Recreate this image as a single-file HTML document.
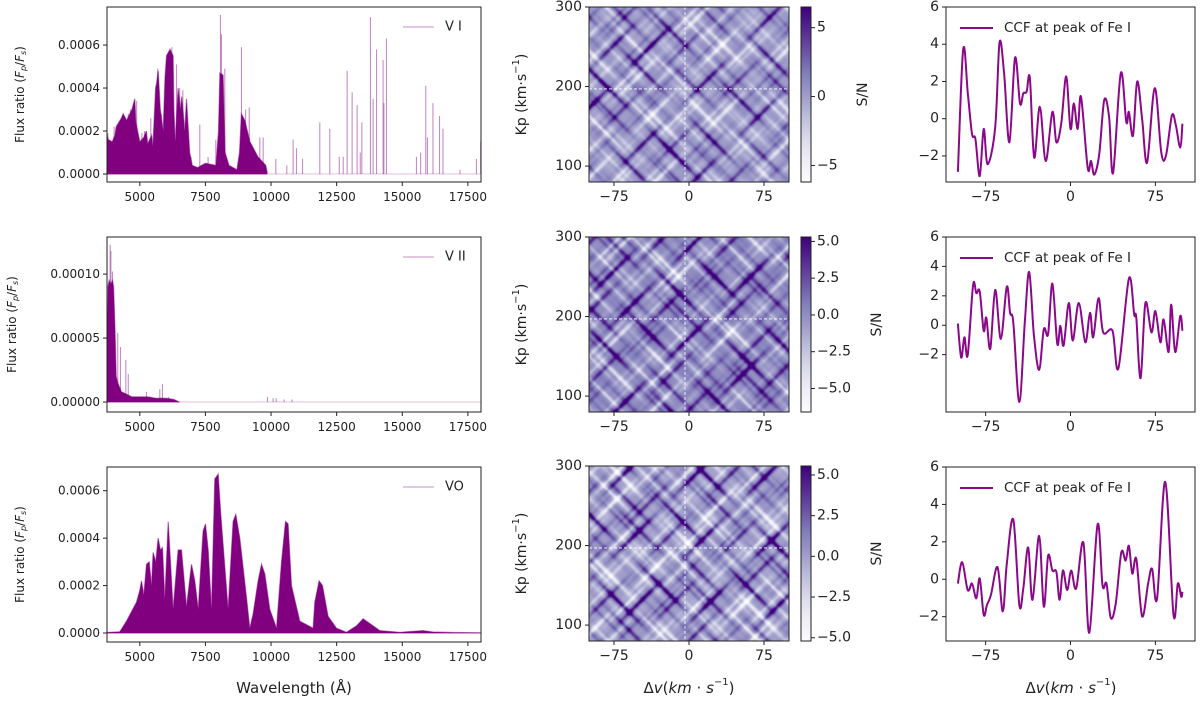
<!DOCTYPE html>
<html><head><meta charset="utf-8">
<style>
html,body{margin:0;padding:0;background:#fff;}
#wrap{position:relative;width:1200px;height:701px;overflow:hidden;font-family:"DejaVu Sans","Liberation Sans",sans-serif;}
svg{position:absolute;left:0;top:0;}
canvas{position:absolute;}
</style></head>
<body>
<div id="wrap">
<svg id="svg" width="1200" height="701" xmlns="http://www.w3.org/2000/svg">
<defs>
<linearGradient id="purples" x1="0" y1="1" x2="0" y2="0">
<stop offset="0" stop-color="#fcfbfd"/><stop offset="0.125" stop-color="#efedf5"/><stop offset="0.25" stop-color="#dadaeb"/>
<stop offset="0.375" stop-color="#bcbddc"/><stop offset="0.5" stop-color="#9e9ac8"/><stop offset="0.625" stop-color="#807dba"/>
<stop offset="0.75" stop-color="#6a51a3"/><stop offset="0.875" stop-color="#54278f"/><stop offset="1" stop-color="#3f007d"/>
</linearGradient>
</defs>
</svg>
</div>
<script>
// ---------- data ----------
const v1DenseWl = [3750,3800,3950,4050,4100,4300,4365,4500,4700,4810,4850,5000,5150,5250,5300,5450,5500,5600,5635,5700,5780,5890,5960,6016,6150,6270,6300,6350,6460,6550,6600,6715,6780,6900,7000,7200,7500,7900,8000,8050,8175,8250,8400,8700,8800,8870,9000,9200,9500,9800,9850];
const v1DenseVal = [0.00018,0.00016,0.00015,0.00018,0.00022,0.00026,0.00028,0.00025,0.00030,0.00035,0.00024,0.00015,0.00017,0.00020,0.00014,0.00018,0.00013,0.00040,0.00042,0.00048,0.00030,0.00020,0.00045,0.00055,0.00058,0.00055,0.00030,0.00015,0.00040,0.00030,0.00036,0.00020,0.00035,0.00010,0.00004,0.00003,0.00005,0.00004,0.00020,0.00047,0.00046,0.00010,0.00004,0.00002,0.00010,0.00028,0.00025,0.00015,0.00008,0.00004,0.00001];
const v1LineWl = [3780,3900,4020,4150,4230,4420,4560,4640,4760,4880,4950,5080,5180,5330,5420,5560,5680,5820,5900,6060,6220,6400,6520,6640,6840,6950,7286,7600,7896,8073,8110,8238,8874,9030,9170,9572,9700,10182,10600,10842,10970,11200,11858,12239,12600,12750,12900,13090,13280,13400,13460,13788,13890,14020,14270,14300,14398,15541,15700,15897,15960,16170,16420,16550,17200,17827,17990];
const v1LineVal = [0.00019,0.00012,0.00022,0.00016,0.00020,0.00012,0.00028,0.00030,0.00015,0.00034,0.00008,0.00019,0.00020,0.00008,0.00026,0.00012,0.00049,0.00028,0.00013,0.00050,0.00059,0.00051,0.00040,0.00039,0.00012,0.00008,0.00023,0.00008,0.00016,0.00074,0.00065,0.00049,0.00059,0.00030,0.00031,0.00017,0.00017,0.00007,0.00004,0.00016,0.00012,0.00007,0.00024,0.00021,0.00008,0.00008,0.00048,0.00038,0.00032,0.00010,0.00024,0.00073,0.00035,0.00058,0.00053,0.00033,0.00063,0.00008,0.00010,0.00041,0.00017,0.00033,0.00027,0.00021,0.00002,0.00007,0.00015];
const v2DenseWl = [3750,3790,3830,3900,3960,4000,4050,4100,4160,4300,4500,4700,5000,5300,5600,6000,6300,6500];
const v2DenseVal = [0.000045,0.000090,0.000095,0.000092,0.000095,0.000090,0.000060,0.000020,0.000015,0.000008,0.000006,0.000004,0.000004,0.000004,0.000003,0.000003,0.000002,0.000000];
const v2LineWl = [3870,3900,3960,4160,4263,4467,4560,5254,5400,5762,5863,6100,9864,10080,10200,10500,10800];
const v2LineVal = [0.000123,0.000118,0.000102,0.000054,0.000043,0.000033,0.000022,0.000008,0.000004,0.000010,0.000014,0.000004,0.000004,0.000003,0.000003,0.000002,0.000002];
const voWl = [3750,3857,4238,4492,4873,5000,5064,5152,5254,5356,5445,5508,5610,5698,5787,5863,5952,6080,6168,6270,6460,6587,6778,6969,7096,7223,7413,7502,7604,7731,7858,7985,8087,8365,8556,8658,8810,9064,9191,9318,9508,9636,9763,9953,10207,10398,10550,10652,10779,11096,11604,11667,11832,11959,12175,12493,12874,13255,13509,13763,14144,14906,15795,16176,17000,18000];
const voVal = [0.000003,0.000003,0.000005,0.00005,0.00013,0.00018,0.00022,0.00016,0.00029,0.00030,0.00020,0.00034,0.00030,0.00040,0.00035,0.00036,0.00014,0.00047,0.00030,0.00010,0.00035,0.00035,0.00011,0.00029,0.00022,0.00010,0.00043,0.00046,0.00035,0.00010,0.00065,0.00067,0.00050,0.00010,0.00047,0.00050,0.00040,0.00015,0.00002,0.00008,0.00022,0.00029,0.00025,0.00010,0.00002,0.00030,0.00047,0.00046,0.00020,0.00005,0.00002,0.00013,0.00022,0.00020,0.00007,0.00002,0.000003,0.00003,0.00006,0.00004,0.00001,0.000003,0.00001,0.000004,0.000002,0.000001];
const ccf1V = [-99.5,-94.8,-90.7,-87,-84,-80.2,-76.7,-73.2,-66.5,-62.7,-58.7,-54,-49,-44.6,-41.7,-38.8,-35.9,-32.1,-27.1,-21.9,-16,-12.5,-8.2,-3.8,0,2.9,6.4,9.3,15.2,18.1,21,25.4,29.8,34.1,37.6,44.4,49.3,51.6,55.2,58.9,63.3,67.7,74.4,80.2,84.3,89.6,93.1,96.9,98.9];
const ccf1S = [-2.85,3.73,1.36,-0.82,-1.09,-3.09,-0.55,-2.45,-0.45,4.09,2.45,-1.27,3.27,0.82,1.36,1.45,2.18,-2.09,0.64,-2.27,0.36,-1.27,-0.27,2.27,-0.55,0.82,-0.55,1.18,-2.64,-2.27,-3.0,-1.91,1.0,0.09,-2.91,2.45,-0.18,0.36,-0.91,2.0,0,-2.36,1.64,-1.82,-2.0,0.18,-0.36,-1.55,-0.27];
const ccf2V = [-99.5,-96.6,-93.7,-90.8,-86.1,-83.2,-80.2,-76.7,-74.4,-70.9,-66.5,-61.6,-56.3,-53.4,-50.5,-45.2,-40.3,-36.5,-32.4,-27.7,-23.6,-19.8,-16,-11.7,-9,-6.1,-1.5,2,7.3,13.1,17.2,20.1,24.8,28.9,37.1,42.3,51.6,56.3,58.1,61.9,66.2,71.5,75,79.4,82.3,86.7,89,92.5,96.9,98.9];
const ccf2S = [0.11,-2.2,-0.82,-2.04,2.73,2.18,2.29,-0.38,0.51,-1.6,2.4,-0.93,2.62,0.84,0.18,-5.22,0.29,3.62,-0.6,-3.04,-0.27,-0.6,2.84,-1.27,-0.04,-1.38,1.51,-1.04,1.51,-1.16,0.84,-0.82,1.84,-0.49,-0.38,-2.93,3.18,0.73,0.51,-3.6,1.51,-0.49,0.96,-1.16,0.4,-1.82,1.4,-1.82,0.62,-0.38];
const ccf3V = [-99.5,-95.7,-90.8,-87,-83.2,-80.2,-76.7,-73.8,-70.3,-64.5,-59.8,-56.3,-50.5,-45.2,-41.7,-37.4,-33.6,-27.7,-23.6,-19.8,-16,-12.5,-9.6,-6.7,-2.9,0.6,5,11.4,16.6,23.9,28.3,31.8,35.6,40,44.9,48.7,51.6,54.6,58.1,63.3,68.6,72.1,76.5,83.7,91,94.8,97.8,98.9];
const ccf3S = [-0.23,0.91,-0.58,-0.23,-1.02,0.04,-1.9,-1.37,-0.84,0.65,-1.72,0.82,3.19,-1.37,-0.49,1.7,-1.1,2.32,-1.46,1.26,0.47,0.39,-1.1,0.47,-0.58,0.47,-0.49,1.96,-2.86,2.93,-0.32,-0.23,-2.07,-1.28,1.44,1.0,1.79,0.3,1.09,-1.98,-0.23,0.56,-1.02,5.21,-1.9,-0.23,-0.93,-0.67];
const map1DownC = [-160,-140,-118,-100,-85,-62,-44,-30,-10,8,25,40,58,75,96,112,130,150,170,188];
const map1DownA = [2,-2,3,-1,2,4,-2,1,3,-2,2,-1,3,1,-2,2,3,-1,2,1];
const map1UpC = [10,28,45,62,80,100,118,135,152,170,190,205,222,240,260,278,295,315,332,350,368];
const map1UpA = [1,-2,2,3,-1,4,-2,2,1,-2,3,-1,2,-2,1,3,-1,2,-2,1,2];
const map2DownC = [-170,-150,-128,-110,-92,-70,-52,-36,-18,0,18,34,50,68,86,104,122,140,160,180];
const map2DownA = [-1,3,1,-2,3,2,-2,3,1,-1,2,3,-2,1,3,-1,2,1,-2,3];
const map2UpC = [5,22,40,58,74,92,110,128,146,164,182,200,218,236,254,272,290,308,326,344,362];
const map2UpA = [2,1,-2,3,2,-1,3,-2,2,1,-1,3,2,-2,1,2,3,-1,2,1,-2];
const map3DownC = [-165,-146,-124,-106,-88,-66,-48,-32,-14,4,22,38,54,72,90,108,126,144,164,184];
const map3DownA = [2,-1,2,3,-2,1,3,-1,2,2,-2,3,1,-1,2,3,-2,1,2,-1];
const map3UpC = [8,25,42,60,78,96,114,131,149,167,186,203,220,238,256,274,292,310,328,346,364];
const map3UpA = [-1,2,3,-2,1,2,3,-1,2,-2,3,1,2,-1,3,2,-2,1,3,-1,2];
const cbTicks1 = [-5,0,5], cbLab1 = ["−5","0","5"];
const cbTicks2 = [-5,-2.5,0,2.5,5], cbLab2 = ["−5.0","−2.5","0.0","2.5","5.0"];
const wlTicks = [5000,7500,10000,12500,15000,17500];
const vTicks = [-75,0,75];
const kpTicks = [100,200,300];

// ---------- helpers ----------
const svg = document.getElementById('svg');
const NS = 'http://www.w3.org/2000/svg';
function el(tag, attrs, parent){ const e=document.createElementNS(NS,tag); for(const k in attrs) e.setAttribute(k,attrs[k]); (parent||svg).appendChild(e); return e; }
function txt(s, x, y, size, anchor, parent, extra){ const t=el('text',Object.assign({x:x,y:y,'font-size':size,'text-anchor':anchor||'middle','dominant-baseline':'central',fill:'#222'},extra||{}),parent); t.textContent=s; return t; }
function mk(x0,x1,y0,y1,xmin,xmax,ymin,ymax){ return {x0,x1,y0,y1,X:v=>x0+(v-xmin)/(xmax-xmin)*(x1-x0),Y:v=>y1-(v-ymin)/(ymax-ymin)*(y1-y0)}; }
function frame(a,name){ const r=el('rect',{x:a.x0,y:a.y0,width:a.x1-a.x0,height:a.y1-a.y0,fill:'none',stroke:'#222','stroke-width':1});   }
function xticks(a,vals,labs,size,g){ vals.forEach((v,i)=>{ const x=a.X(v); el('line',{x1:x,x2:x,y1:a.y1,y2:a.y1+4,stroke:'#222'},g); txt(labs[i],x,a.y1+15,size,'middle',g); }); }
function yticks(a,vals,labs,size,g){ vals.forEach((v,i)=>{ const y=a.Y(v); el('line',{x1:a.x0-4,x2:a.x0,y1:y,y2:y,stroke:'#222'},g); txt(labs[i],a.x0-7,y,size,'end',g); }); }
const cm=[[252,251,253],[239,237,245],[218,218,235],[188,189,220],[158,154,200],[128,125,186],[106,81,163],[84,39,143],[63,0,125]];
function cmap(t){ t=Math.max(0,Math.min(1,t))*8; const i=Math.min(7,Math.floor(t)), f=t-i; return cm[i].map((c,k)=>c+(cm[i+1][k]-c)*f); }
function smooth(pts){ let d='M'+pts[0][0].toFixed(1)+','+pts[0][1].toFixed(1);
  for(let i=0;i<pts.length-1;i++){ const p0=pts[Math.max(0,i-1)],p1=pts[i],p2=pts[i+1],p3=pts[Math.min(pts.length-1,i+2)];
    const c1=[p1[0]+(p2[0]-p0[0])/6,p1[1]+(p2[1]-p0[1])/6], c2=[p2[0]-(p3[0]-p1[0])/6,p2[1]-(p3[1]-p1[1])/6];
    d+=' C'+c1[0].toFixed(1)+','+c1[1].toFixed(1)+' '+c2[0].toFixed(1)+','+c2[1].toFixed(1)+' '+p2[0].toFixed(1)+','+p2[1].toFixed(1); }
  return d; }

// ---------- spectra ----------
const rowsY = [[7,182],[237,412],[467,642]];
const spec = [
 {name:'v-i',label:'V I',ylim:[-0.0000372,0.000777],ticks:[0,0.0002,0.0004,0.0006],labs:['0.0000','0.0002','0.0004','0.0006'],dW:v1DenseWl,dV:v1DenseVal,lW:v1LineWl,lV:v1LineVal,ylab:20},
 {name:'v-ii',label:'V II',ylim:[-0.0000078,0.000129],ticks:[0,0.00005,0.0001],labs:['0.00000','0.00005','0.00010'],dW:v2DenseWl,dV:v2DenseVal,lW:v2LineWl,lV:v2LineVal,ylab:12},
 {name:'vo',label:'VO',ylim:[-0.000038,0.0007],ticks:[0,0.0002,0.0004,0.0006],labs:['0.0000','0.0002','0.0004','0.0006'],dW:voWl,dV:voVal,lW:[],lV:[],ylab:20}
];
spec.forEach((s,r)=>{
  const a=mk(107,481,rowsY[r][0],rowsY[r][1],3750,18000,s.ylim[0],s.ylim[1]);
  const g=el('g',{});  
  const clip=el('clipPath',{id:'clip'+r},g); el('rect',{x:a.x0,y:a.y0,width:a.x1-a.x0,height:a.y1-a.y0},clip);
  const pg=el('g',{'clip-path':'url(#clip'+r+')'},g);
  const bl=el('line',{x1:a.x0,x2:a.x1,y1:a.Y(0),y2:a.Y(0),stroke:'rgba(128,0,128,0.25)','stroke-width':1},pg);
   
  let d='M'+a.X(s.dW[0])+','+a.Y(0);
  s.dW.forEach((w,i)=>{ d+=' L'+a.X(w).toFixed(1)+','+a.Y(s.dV[i]).toFixed(1); });
  d+=' L'+a.X(s.dW[s.dW.length-1])+','+a.Y(0)+' Z';
  const p=el('path',{d:d,fill:'#800080',stroke:'#800080','stroke-width':1.2,'stroke-opacity':0.5},pg);
   
  s.lW.forEach((w,i)=>{ const l=el('line',{x1:a.X(w),x2:a.X(w),y1:a.Y(0),y2:a.Y(s.lV[i]),stroke:'#800080','stroke-opacity':0.45,'stroke-width':1.1},pg);
      });
  frame(a,'spectrum-axes-frame');
  xticks(a,wlTicks,wlTicks.map(String),12,g);
  yticks(a,s.ticks,s.labs,12,g);
  const yl=txt('',s.ylab,(a.y0+a.y1)/2,12,'middle',g,{transform:'rotate(-90 '+s.ylab+' '+((a.y0+a.y1)/2)+')'});
  yl.innerHTML='Flux ratio (<tspan font-style="italic">F</tspan><tspan font-size="8" dy="3" font-style="italic">p</tspan><tspan dy="-3">/</tspan><tspan font-style="italic">F</tspan><tspan font-size="8" dy="3" font-style="italic">s</tspan><tspan dy="-3">)</tspan>';
   
  const lg=el('g',{},g);  
  el('line',{x1:403,x2:434,y1:a.y0+20,y2:a.y0+20,stroke:'rgba(128,0,128,0.22)','stroke-width':2},lg);
  txt(s.label,445,a.y0+20,13,'start',lg);
});
const wlab=txt('Wavelength (Å)',294,688,15,'middle');
 

// ---------- Kp maps ----------
const maps=[
 {dc:map1DownC,da:map1DownA,uc:map1UpC,ua:map1UpA,cb:[-6.2,6.5],ct:cbTicks1,cl:cbLab1,sn:863},
 {dc:map2DownC,da:map2DownA,uc:map2UpC,ua:map2UpA,cb:[-6.6,5.3],ct:cbTicks2,cl:cbLab2,sn:877},
 {dc:map3DownC,da:map3DownA,uc:map3UpC,ua:map3UpA,cb:[-5.2,5.55],ct:cbTicks2,cl:cbLab2,sn:877}
];
const mapY=[[7,182],[237,412],[466,641]];
maps.forEach((m,r)=>{
  const a=mk(589,789,mapY[r][0],mapY[r][1],-100,100,80,300);
  const W=a.x1-a.x0, H=a.y1-a.y0;
  const cv=document.createElement('canvas'); cv.width=W; cv.height=H;
  cv.style.left=a.x0+'px'; cv.style.top=a.y0+'px';
  
  
  document.getElementById('wrap').insertBefore(cv,svg);
  const ctx=cv.getContext('2d'); const img=ctx.createImageData(W,H);
  const vals=new Float32Array(W*H); let sum=0,sq=0;
  for(let j=0;j<H;j++) for(let i=0;i<W;i++){
    let v=0;
    for(let k=0;k<m.dc.length;k++){
      const mod=0.55+0.45*Math.cos((i+j)*0.045+k*1.7);
      let dd=(i-j-m.dc[k])/3.2; v+=m.da[k]*mod*Math.exp(-dd*dd);
      dd=(i-j-m.dc[k]-9)/2.6; v-=0.6*m.da[(k+3)%m.da.length]*(1-mod)*Math.exp(-dd*dd);
    }
    for(let k=0;k<m.uc.length;k++){
      const mod=0.55+0.45*Math.cos((i-j)*0.05+k*2.3);
      let dd=(i+j-m.uc[k])/3.2; v+=m.ua[k]*mod*Math.exp(-dd*dd);
      dd=(i+j-m.uc[k]-8)/2.6; v-=0.6*m.ua[(k+5)%m.ua.length]*(1-mod)*Math.exp(-dd*dd);
    }
    vals[j*W+i]=v; sum+=v; sq+=v*v;
  }
  const n=W*H, mean=sum/n, sd=Math.sqrt(sq/n-mean*mean);
  for(let q=0;q<n;q++){
    const v=(vals[q]-mean)/sd*1.9+0.4;
    const c=cmap((v-m.cb[0])/(m.cb[1]-m.cb[0])); const o=q*4;
    img.data[o]=c[0]; img.data[o+1]=c[1]; img.data[o+2]=c[2]; img.data[o+3]=255;
  }
  ctx.putImageData(img,0,0);
  const g=el('g',{});  
  const vx=a.X(-4), hy=a.Y(197);
  const l1=el('line',{x1:vx,x2:vx,y1:a.y0,y2:a.y1,stroke:'#fff','stroke-width':0.8,'stroke-dasharray':'3,2'},g);
   
  const l2=el('line',{x1:a.x0,x2:a.x1,y1:hy,y2:hy,stroke:'#fff','stroke-width':0.8,'stroke-dasharray':'3,2'},g);
   
  frame(a,'kp-map-frame');
  xticks(a,vTicks,['−75','0','75'],14,g);
  yticks(a,kpTicks,kpTicks.map(String),14,g);
  const cy=(a.y0+a.y1)/2;
  const kl=txt('',522,cy,14,'middle',g,{transform:'rotate(-90 522 '+cy+')'});
  kl.innerHTML='Kp (km·s<tspan font-size="10" dy="-6">−1</tspan><tspan dy="6">)</tspan>';
   
  const cb=mk(801,811,a.y0,a.y1,0,1,m.cb[0],m.cb[1]);
  const cr=el('rect',{x:801,y:a.y0,width:10,height:H,fill:'url(#purples)',stroke:'#222','stroke-width':1},g);
   
  m.ct.forEach((t,i)=>{ const y=cb.Y(t); el('line',{x1:811,x2:815,y1:y,y2:y,stroke:'#222'},g); txt(m.cl[i],817,y,14,'start',g); });
  const sl=txt('S/N',m.sn,cy,14,'middle',g,{transform:'rotate(-90 '+m.sn+' '+cy+')'});
   
});
const dv2=txt('',689,688,15,'middle');
dv2.innerHTML='Δ<tspan font-style="italic">v</tspan>(<tspan font-style="italic">km</tspan> · <tspan font-style="italic">s</tspan><tspan font-size="10" dy="-6">−1</tspan><tspan dy="6">)</tspan>';
 

// ---------- CCF panels ----------
const ccfs=[{v:ccf1V,s:ccf1S,yl:[-3.4,6],t:[-2,0,2,4,6]},{v:ccf2V,s:ccf2S,yl:[-5.9,6],t:[-2,0,2,4,6]},{v:ccf3V,s:ccf3S,yl:[-3.3,6],t:[-2,0,2,4,6]}];
const ccfY=[[7,182],[237,412],[467,641]];
ccfs.forEach((c,r)=>{
  const a=mk(946,1195,ccfY[r][0],ccfY[r][1],-110,110,c.yl[0],c.yl[1]);
  const g=el('g',{});  
  const pts=c.v.map((v,i)=>[a.X(v),a.Y(c.s[i])]);
  const p=el('path',{d:smooth(pts),fill:'none',stroke:'#8b088b','stroke-width':2,'stroke-linejoin':'round'},g);
   
  frame(a,'ccf-axes-frame');
  xticks(a,vTicks,['−75','0','75'],14,g);
  yticks(a,c.t,c.t.map(v=>v<0?'−'+(-v):String(v)),14,g);
  const lg=el('g',{},g);  
  el('line',{x1:960,x2:993,y1:a.y0+21,y2:a.y0+21,stroke:'#8b088b','stroke-width':2},lg);
  txt('CCF at peak of Fe I',1004,a.y0+21,13.5,'start',lg);
});
const dv3=txt('',1071,688,15,'middle');
dv3.innerHTML='Δ<tspan font-style="italic">v</tspan>(<tspan font-style="italic">km</tspan> · <tspan font-style="italic">s</tspan><tspan font-size="10" dy="-6">−1</tspan><tspan dy="6">)</tspan>';
 
</script>
</body></html>
